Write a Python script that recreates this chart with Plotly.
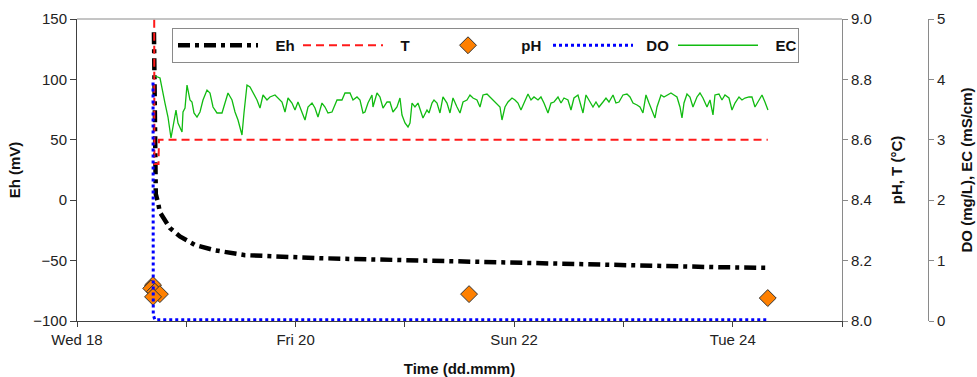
import datetime as dt
import plotly.graph_objects as go

START = dt.datetime(2014, 6, 18, 0, 0)  # Wed 18

# ---- data (time as hours since Wed 18 00:00) ----
eh_hours = [16.9, 17.0, 17.1, 17.3, 17.8, 18.2, 20.4, 22.6, 25.9, 30.3, 36.9, 44.6,
            53.4, 64.5, 75.4, 86.3, 97.3, 108.3, 119.3, 130.2, 141.2, 151.7]
eh_values = [139, 60, 19, 5, -2, -10, -23, -30, -37, -41.5, -45.5, -47,
             -48, -49, -50, -51, -52, -53, -54, -54.8, -55.5, -56]

t_hours = [16.9, 17.0, 17.9, 18.0, 151.7]
t_values = [9.6, 8.52, 8.52, 8.6, 8.6]

ph_hours = [16.7, 16.3, 17.1, 18.2, 16.7, 86.1, 151.7]
ph_values = [8.119, 8.108, 8.097, 8.089, 8.080, 8.089, 8.076]

do_hours = [16.7, 16.75, 17.1, 151.6]
do_values = [3.95, 0.1, 0.02, 0.02]

ec_hours = [17.13, 18.23, 19.32, 19.98, 20.64, 21.08, 21.74, 22.18, 23.06, 23.28, 23.72,
            24.16, 24.81, 25.25, 25.69, 26.35, 27.01, 27.67, 28.55, 29.21, 29.87, 30.74,
            31.84, 32.50, 33.16, 34.04, 34.70, 35.36, 36.23, 36.67, 37.33, 37.99, 38.65,
            39.53, 40.19, 40.85, 41.72, 42.38, 43.48, 44.14, 45.02, 45.68, 46.34, 47.21,
            47.87, 48.53, 49.41, 50.07, 50.73, 51.61, 52.26, 52.92, 53.80, 54.46, 55.12,
            56.00, 57.10, 58.19, 58.85, 59.95, 60.61, 61.49, 62.15, 62.81,
            63.24, 63.90, 64.78, 65.00, 65.88, 66.54, 67.20, 68.08, 68.73, 69.39, 70.27,
            70.93, 71.37, 72.03, 72.69, 73.13, 73.57, 74.22, 74.88, 75.54, 75.98, 76.86,
            77.30, 77.96, 78.40, 79.06, 79.71, 80.37, 81.25, 81.91, 82.57, 83.45, 84.11,
            84.77, 85.64, 86.30, 86.96, 87.84, 88.50, 89.16, 90.04, 90.69, 91.35, 92.23,
            92.89, 93.33, 93.99, 94.65, 95.53, 96.18, 96.84, 97.50, 98.16, 99.04, 99.70,
            100.36, 101.24, 101.89, 102.55, 103.43, 104.09, 104.75, 105.63, 106.29,
            106.95, 107.82, 108.48, 109.14, 110.02,
            110.46, 111.12, 111.78, 112.44, 113.31, 113.97, 114.63, 115.51, 116.17,
            116.83, 117.71, 118.36, 119.02, 119.90, 120.78, 121.44, 122.10, 122.98,
            123.63, 124.29, 124.95, 125.61, 126.49, 126.93, 127.37, 128.25, 128.91,
            129.56, 130.44, 131.10, 131.76, 132.42, 132.86, 133.30, 133.96, 134.61,
            135.27, 136.15, 136.81, 137.47, 138.35, 139.01, 139.67, 140.10, 140.98,
            141.64, 142.30, 143.18, 143.84, 144.50, 145.38, 146.03, 146.69, 147.57,
            148.23, 148.89, 149.77, 150.43, 151.08, 151.74]
ec_values = [4.056, 4.023, 3.609, 3.377, 3.030, 3.245, 3.493, 3.278, 3.129, 3.460, 3.526,
             3.907, 3.659, 3.626, 3.444, 3.377, 3.460, 3.659, 3.824, 3.775, 3.543, 3.444,
             3.444, 3.609, 3.775, 3.659, 3.460, 3.328, 3.079, 3.444, 3.907, 3.874, 3.791,
             3.659, 3.526, 3.742, 3.659, 3.709, 3.742, 3.692, 3.626, 3.460, 3.692, 3.609,
             3.493, 3.626, 3.444, 3.328, 3.543, 3.609, 3.526, 3.377, 3.609, 3.543, 3.444,
             3.460, 3.659, 3.659, 3.775, 3.775, 3.659, 3.709, 3.659, 3.444,
             3.460, 3.609, 3.742, 3.543, 3.775, 3.709, 3.526, 3.626, 3.626, 3.460, 3.543,
             3.692, 3.411, 3.278, 3.212, 3.278, 3.609, 3.543, 3.609, 3.444, 3.361, 3.493,
             3.444, 3.609, 3.659, 3.609, 3.444, 3.709, 3.609, 3.444, 3.692, 3.543, 3.444,
             3.626, 3.659, 3.742, 3.692, 3.659, 3.543, 3.742, 3.758, 3.709, 3.659, 3.609,
             3.543, 3.328, 3.543, 3.626, 3.692, 3.659, 3.609, 3.493, 3.609, 3.758, 3.659,
             3.709, 3.659, 3.709, 3.609, 3.444, 3.609, 3.626, 3.709, 3.609,
             3.692, 3.659, 3.493, 3.692, 3.742,
             3.609, 3.444, 3.742, 3.659, 3.543, 3.626, 3.543, 3.626, 3.692,
             3.626, 3.742, 3.609, 3.626, 3.742, 3.758, 3.709, 3.609, 3.576,
             3.543, 3.444, 3.742, 3.609, 3.444, 3.361, 3.543, 3.742, 3.709,
             3.742, 3.775, 3.742, 3.709, 3.543, 3.361, 3.609, 3.758, 3.709,
             3.543, 3.709, 3.775, 3.692, 3.543, 3.659, 3.411, 3.742, 3.758,
             3.659, 3.742, 3.692, 3.493, 3.609, 3.709, 3.659, 3.692, 3.709,
             3.709, 3.543, 3.659, 3.742, 3.626, 3.493]

x_tick_days = [0, 2, 4, 6]
x_range_days = [0, 7]
eh_ticks = [-100, -50, 0, 50, 100, 150]
ph_ticks = [8.0, 8.2, 8.4, 8.6, 8.8, 9.0]
do_ticks = [0, 1, 2, 3, 4, 5]
series_names = ["Eh", "T", "pH", "DO", "EC"]


def to_time(hours):
    return [START + dt.timedelta(hours=h) for h in hours]


NB = "\u00a0"
legend_pad = {"Eh": 3, "T": 3, "pH": 2, "DO": 2, "EC": 3}


def lname(n):
    return NB * legend_pad[n] + n


W, H = 977, 377
ML, MR, MT, MB = 77, 17, 19, 56
PW = W - ML - MR
PH = H - MT - MB
x_end = (842 - ML) / PW
y3_pos = (928 - ML) / PW

FONT = "Liberation Sans, Arial, sans-serif"
AX = "#404040"
GR = "#8a8a8a"

fig = go.Figure()
fig.add_trace(go.Scatter(x=to_time(eh_hours), y=eh_values, name=lname(series_names[0]),
                         mode="lines",
                         line=dict(color="black", width=4.5, dash="12px,5px,4px,5px"),
                         yaxis="y"))
fig.add_trace(go.Scatter(x=to_time(t_hours), y=t_values, name=lname(series_names[1]),
                         mode="lines",
                         line=dict(color="#ff1a1a", width=2, dash="8px,5px"),
                         yaxis="y2"))
fig.add_trace(go.Scatter(x=to_time(ph_hours), y=ph_values, name=lname(series_names[2]),
                         mode="markers",
                         marker=dict(symbol="diamond", size=13, color="#ff8000",
                                     line=dict(color="#333333", width=1)),
                         yaxis="y2"))
fig.add_trace(go.Scatter(x=to_time(do_hours), y=do_values, name=lname(series_names[3]),
                         mode="lines",
                         line=dict(color="#0000ff", width=3, dash="dot"),
                         yaxis="y3"))
fig.add_trace(go.Scatter(x=to_time(ec_hours), y=ec_values, name=lname(series_names[4]),
                         mode="lines",
                         line=dict(color="#11bb11", width=1.3),
                         yaxis="y3"))

tickfont = dict(family=FONT, size=15, color="#222222")
titlefont = dict(family=FONT, size=15, color="#111111", weight="bold")

fig.update_layout(
    width=W, height=H,
    margin=dict(l=ML, r=MR, t=MT, b=MB, autoexpand=False),
    paper_bgcolor="white", plot_bgcolor="white",
    font=dict(family=FONT),
    showlegend=True,
    legend=dict(orientation="h", x=(172 - ML) / PW, y=1 - (28 - MT) / PH,
                xanchor="left", yanchor="top",
                bgcolor="white", bordercolor=GR, borderwidth=1,
                font=dict(family=FONT, size=15, color="#111111", weight="bold"),
                itemwidth=80, entrywidth=30, entrywidthmode="pixels",
                tracegroupgap=0),
    xaxis=dict(
        domain=[0, x_end], type="date",
        range=[START + dt.timedelta(days=d) for d in x_range_days],
        tickvals=[START + dt.timedelta(days=d) for d in x_tick_days],
        tickformat="%a %d",
        ticks="outside", ticklen=5, tickcolor=AX, tickwidth=1,
        minor=dict(dtick=86400000, tick0=START, ticks="outside", ticklen=5,
                   tickcolor=AX, showgrid=False),
        showline=True, linecolor=AX, linewidth=1, mirror=False,
        showgrid=False, zeroline=False,
        tickfont=tickfont,
        title=dict(text="Time (dd.mmm)", font=titlefont, standoff=16),
        automargin=False,
    ),
    yaxis=dict(
        range=[-100, 150], tickvals=eh_ticks,
        ticks="outside", ticklen=6, tickcolor=AX,
        showline=True, linecolor=AX, linewidth=1,
        showgrid=False, zeroline=False,
        tickfont=tickfont,
        title=dict(text="Eh (mV)", font=titlefont, standoff=8),
        automargin=False,
    ),
    yaxis2=dict(
        range=[8.0, 9.0], tickvals=ph_ticks, tickformat=".1f",
        overlaying="y", side="right", anchor="x",
        ticks="outside", ticklen=5, tickcolor=GR,
        showline=True, linecolor=GR, linewidth=1,
        showgrid=False, zeroline=False,
        tickfont=tickfont,
        title=dict(text="pH, T (°C)", font=titlefont, standoff=20),
        automargin=False,
    ),
    yaxis3=dict(
        range=[0, 5], tickvals=do_ticks,
        overlaying="y", side="right", anchor="free", position=y3_pos,
        ticks="outside", ticklen=5, tickcolor=GR,
        showline=True, linecolor=GR, linewidth=1,
        showgrid=False, zeroline=False,
        tickfont=tickfont,
        title=dict(text="DO (mg/L), EC (mS/cm)", font=titlefont, standoff=17),
        automargin=False,
    ),
    shapes=[dict(type="line", xref="paper", yref="paper", x0=0, x1=x_end, y0=1, y1=1,
                 line=dict(color=GR, width=1))],
)

fig.write_html("out.html")
